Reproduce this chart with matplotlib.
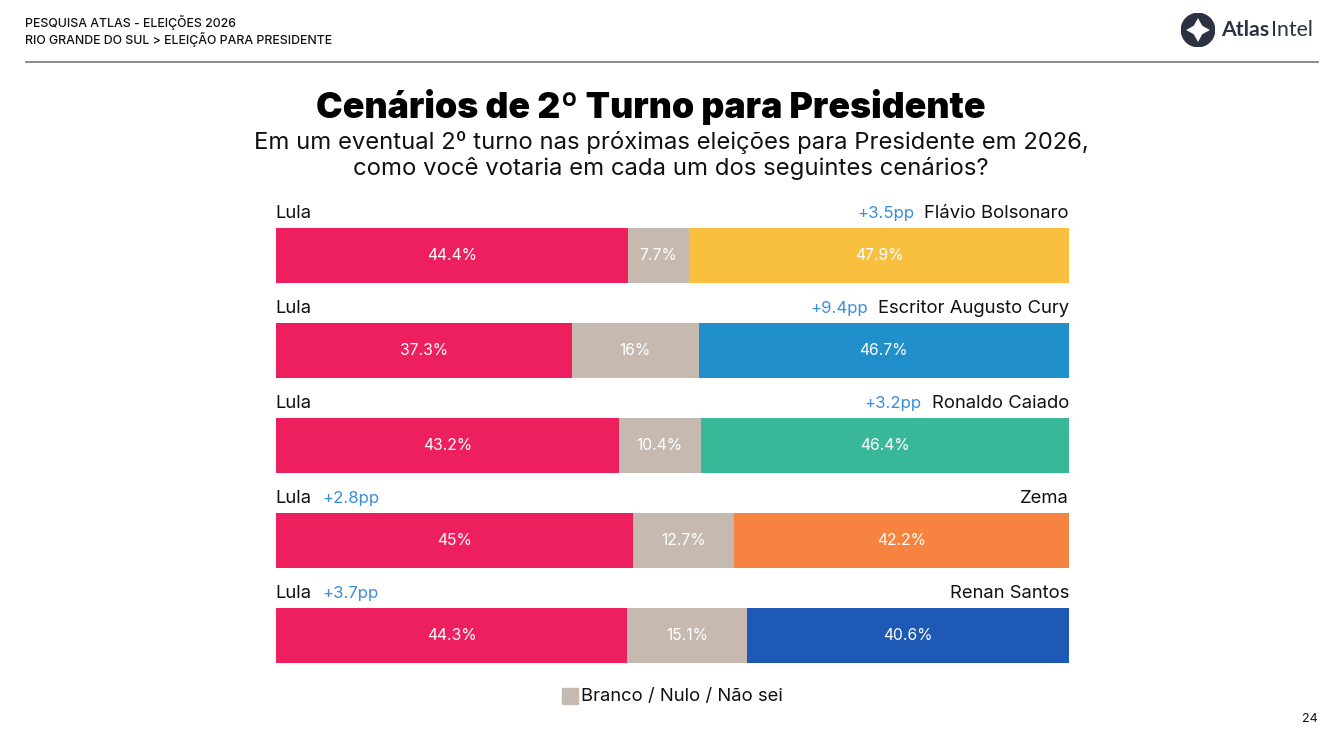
import numpy as np
import matplotlib.pyplot as plt
from matplotlib.patches import Circle, Polygon, Rectangle

W, H = 1335, 743

candidates = ['Flávio Bolsonaro', 'Escritor Augusto Cury', 'Ronaldo Caiado', 'Zema', 'Renan Santos']
lula = [44.4, 37.3, 43.2, 45, 44.3]
branco = [7.7, 16, 10.4, 12.7, 15.1]
rival = [47.9, 46.7, 46.4, 42.2, 40.6]
margins = ['+3.5pp', '+9.4pp', '+3.2pp', '+2.8pp', '+3.7pp']
colors = ['#F9C03F', '#218FC9', '#39B899', '#F78340', '#1D59B5']

red = '#EE1F5F'
grey = '#C6B9B0'
blue = '#3A8EDB'
ink = '#111111'
font = 'Inter'


def fx(px):
    return px / W


def fy(py):
    return 1 - py / H


plt.rcParams['font.family'] = [font, 'DejaVu Sans']
fig = plt.figure(figsize=(W / 100, H / 100), dpi=100, facecolor='white')

# header
fig.text(fx(25), fy(22.5), 'PESQUISA ATLAS - ELEIÇÕES 2026', fontsize=8.9, weight='medium', color=ink, va='center')
fig.text(fx(25), fy(39.5), 'RIO GRANDE DO SUL > ELEIÇÃO PARA PRESIDENTE', fontsize=8.9, weight='medium', color=ink, va='center')
fig.add_artist(plt.Line2D([fx(26), fx(1318)], [fy(62), fy(62)], color='#777777', lw=1.2))
fig.text(fx(1221), fy(30.5), 'Atlas', fontsize=15.3, weight='bold', family='Lato', color='#2B3242', va='center')
fig.text(fx(1271), fy(30.5), 'Intel', fontsize=15.3, family='Lato', color='#2B3242', va='center')
fig.text(fx(1318), fy(718.5), '24', fontsize=9, color=ink, ha='right', va='center')

# logo
logo = fig.add_axes([fx(1181), fy(47), 34 / W, 34 / H])
logo.set_xlim(-1, 1)
logo.set_ylim(-1, 1)
logo.axis('off')
logo.add_patch(Circle((0, 0), 0.98, color='#2B3242'))
star = [(0, 0.7), (0.25, 0.25), (0.7, 0), (0.25, -0.25), (0, -0.7), (-0.25, -0.25), (-0.7, 0), (-0.25, 0.25)]
logo.add_patch(Polygon(star, closed=True, color='white', lw=0))

# titles
fig.text(fx(651), fy(107), 'Cenários de 2º Turno para Presidente', fontsize=25.7, weight='black', color='black', ha='center', va='center')
fig.text(fx(671), fy(142), 'Em um eventual 2º turno nas próximas eleições para Presidente em 2026,', fontsize=17.15, color=ink, ha='center', va='center')
fig.text(fx(671), fy(169), 'como você votaria em cada um dos seguintes cenários?', fontsize=17.2, color=ink, ha='center', va='center')

# bars
ax = fig.add_axes([fx(276), fy(683), (1069 - 276) / W, (683 - 207.5) / H])
ax.set_xlim(0, 100)
ax.set_ylim(4.5, -0.5)
ax.axis('off')

y = np.arange(len(candidates))
lula_a = np.array(lula)
branco_a = np.array(branco)
rival_a = np.array(rival)
total = lula_a + branco_a + rival_a
h = 55 / 95

ax.barh(y, lula_a / total * 100, height=h, color=red)
ax.barh(y, branco_a / total * 100, left=lula_a / total * 100, height=h, color=grey)
ax.barh(y, rival_a / total * 100, left=(lula_a + branco_a) / total * 100, height=h, color=colors)

fig.canvas.draw()
to_data = ax.transData.inverted()
for i in y:
    l0 = lula[i] / total[i] * 100
    b0 = branco[i] / total[i] * 100
    r0 = rival[i] / total[i] * 100
    for xc, v in [(l0 / 2, lula[i]), (l0 + b0 / 2, branco[i]), (l0 + b0 + r0 / 2, rival[i])]:
        ax.text(xc, i, f'{v:g}%', color='white', fontsize=11.3, ha='center', va='center')
    ax.text(-0.1, i - 0.44, 'Lula', fontsize=13.3, color=ink, ha='left', va='center')
    name = ax.text(100, i - 0.44, candidates[i], fontsize=13.3, color=ink, ha='right', va='center')
    if lula[i] > rival[i]:
        ax.text(5.8, i - 0.44, margins[i], fontsize=12.1, color=blue, ha='left', va='center')
    else:
        # margin sits just left of the candidate name
        box = name.get_window_extent()
        x_left = to_data.transform((box.x0, 0))[0]
        ax.text(x_left - 1.25, i - 0.44, margins[i], fontsize=12.1, color=blue, ha='right', va='center')

# legend
fig.add_artist(Rectangle((fx(562), fy(704)), 16 / W, 16 / H, transform=fig.transFigure, color=grey))
fig.text(fx(581), fy(696.5), 'Branco / Nulo / Não sei', fontsize=13.3, color=ink, va='center')

fig.savefig('out.png', dpi=100)
